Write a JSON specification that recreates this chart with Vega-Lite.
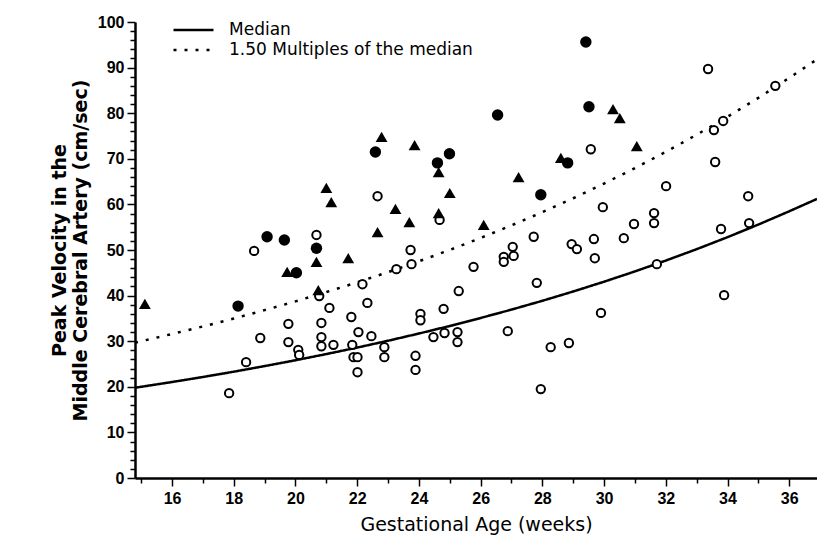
{
  "$schema": "https://vega.github.io/schema/vega-lite/v6.json",
  "width": 682,
  "height": 456,
  "autosize": "none",
  "padding": {"left": 135, "top": 22, "right": 0, "bottom": 62},
  "config": {"view": {"stroke": null}, "font": "Liberation Sans"},
  "datasets": {
    "curves": [
      {"series": "Median", "age": 14.8, "velocity": 19.8},
      {"series": "Median", "age": 15, "velocity": 20.0},
      {"series": "Median", "age": 16, "velocity": 21.05},
      {"series": "Median", "age": 17, "velocity": 22.15},
      {"series": "Median", "age": 18, "velocity": 23.31},
      {"series": "Median", "age": 19, "velocity": 24.54},
      {"series": "Median", "age": 20, "velocity": 25.82},
      {"series": "Median", "age": 21, "velocity": 27.18},
      {"series": "Median", "age": 22, "velocity": 28.6},
      {"series": "Median", "age": 23, "velocity": 30.1},
      {"series": "Median", "age": 24, "velocity": 31.68},
      {"series": "Median", "age": 25, "velocity": 33.34},
      {"series": "Median", "age": 26, "velocity": 35.09},
      {"series": "Median", "age": 27, "velocity": 36.93},
      {"series": "Median", "age": 28, "velocity": 38.86},
      {"series": "Median", "age": 29, "velocity": 40.9},
      {"series": "Median", "age": 30, "velocity": 43.05},
      {"series": "Median", "age": 31, "velocity": 45.3},
      {"series": "Median", "age": 32, "velocity": 47.68},
      {"series": "Median", "age": 33, "velocity": 50.18},
      {"series": "Median", "age": 34, "velocity": 52.81},
      {"series": "Median", "age": 35, "velocity": 55.58},
      {"series": "Median", "age": 36, "velocity": 58.49},
      {"series": "Median", "age": 36.9, "velocity": 61.2},
      {"series": "1.50 Multiples of the median", "age": 14.8, "velocity": 29.7},
      {"series": "1.50 Multiples of the median", "age": 15, "velocity": 30.0},
      {"series": "1.50 Multiples of the median", "age": 16, "velocity": 31.58},
      {"series": "1.50 Multiples of the median", "age": 17, "velocity": 33.23},
      {"series": "1.50 Multiples of the median", "age": 18, "velocity": 34.97},
      {"series": "1.50 Multiples of the median", "age": 19, "velocity": 36.81},
      {"series": "1.50 Multiples of the median", "age": 20, "velocity": 38.73},
      {"series": "1.50 Multiples of the median", "age": 21, "velocity": 40.77},
      {"series": "1.50 Multiples of the median", "age": 22, "velocity": 42.9},
      {"series": "1.50 Multiples of the median", "age": 23, "velocity": 45.15},
      {"series": "1.50 Multiples of the median", "age": 24, "velocity": 47.52},
      {"series": "1.50 Multiples of the median", "age": 25, "velocity": 50.01},
      {"series": "1.50 Multiples of the median", "age": 26, "velocity": 52.64},
      {"series": "1.50 Multiples of the median", "age": 27, "velocity": 55.4},
      {"series": "1.50 Multiples of the median", "age": 28, "velocity": 58.29},
      {"series": "1.50 Multiples of the median", "age": 29, "velocity": 61.35},
      {"series": "1.50 Multiples of the median", "age": 30, "velocity": 64.58},
      {"series": "1.50 Multiples of the median", "age": 31, "velocity": 67.95},
      {"series": "1.50 Multiples of the median", "age": 32, "velocity": 71.52},
      {"series": "1.50 Multiples of the median", "age": 33, "velocity": 75.27},
      {"series": "1.50 Multiples of the median", "age": 34, "velocity": 79.22},
      {"series": "1.50 Multiples of the median", "age": 35, "velocity": 83.37},
      {"series": "1.50 Multiples of the median", "age": 36, "velocity": 87.74},
      {"series": "1.50 Multiples of the median", "age": 36.9, "velocity": 91.8}
    ],
    "points": [
      {"group": "open", "age": 17.85, "velocity": 18.6},
      {"group": "open", "age": 18.4, "velocity": 25.4},
      {"group": "open", "age": 18.66, "velocity": 49.8},
      {"group": "open", "age": 18.86, "velocity": 30.7},
      {"group": "open", "age": 19.77, "velocity": 33.8},
      {"group": "open", "age": 19.77, "velocity": 29.8},
      {"group": "open", "age": 20.09, "velocity": 28.1},
      {"group": "open", "age": 20.12, "velocity": 27.0},
      {"group": "open", "age": 20.68, "velocity": 53.3},
      {"group": "open", "age": 20.77, "velocity": 39.9},
      {"group": "open", "age": 20.84, "velocity": 34.0},
      {"group": "open", "age": 20.84, "velocity": 30.9},
      {"group": "open", "age": 20.84, "velocity": 28.9},
      {"group": "open", "age": 21.1, "velocity": 37.3},
      {"group": "open", "age": 21.23, "velocity": 29.2},
      {"group": "open", "age": 21.81, "velocity": 35.3},
      {"group": "open", "age": 21.84, "velocity": 29.2},
      {"group": "open", "age": 21.88, "velocity": 26.5},
      {"group": "open", "age": 22.01, "velocity": 26.5},
      {"group": "open", "age": 22.01, "velocity": 23.2},
      {"group": "open", "age": 22.04, "velocity": 32.0},
      {"group": "open", "age": 22.17, "velocity": 42.5},
      {"group": "open", "age": 22.33, "velocity": 38.4},
      {"group": "open", "age": 22.46, "velocity": 31.1},
      {"group": "open", "age": 22.66, "velocity": 61.8},
      {"group": "open", "age": 22.88, "velocity": 28.7},
      {"group": "open", "age": 22.88, "velocity": 26.5},
      {"group": "open", "age": 23.27, "velocity": 45.8},
      {"group": "open", "age": 23.73, "velocity": 50.0},
      {"group": "open", "age": 23.76, "velocity": 46.9},
      {"group": "open", "age": 23.89, "velocity": 26.8},
      {"group": "open", "age": 23.89, "velocity": 23.7},
      {"group": "open", "age": 24.05, "velocity": 36.0},
      {"group": "open", "age": 24.05, "velocity": 34.6},
      {"group": "open", "age": 24.47, "velocity": 30.9},
      {"group": "open", "age": 24.67, "velocity": 56.6},
      {"group": "open", "age": 24.8, "velocity": 37.1},
      {"group": "open", "age": 24.83, "velocity": 31.8},
      {"group": "open", "age": 25.25, "velocity": 32.0},
      {"group": "open", "age": 25.25, "velocity": 29.8},
      {"group": "open", "age": 25.29, "velocity": 41.0},
      {"group": "open", "age": 25.77, "velocity": 46.3},
      {"group": "open", "age": 26.75, "velocity": 48.5},
      {"group": "open", "age": 26.75, "velocity": 47.4},
      {"group": "open", "age": 26.88, "velocity": 32.2},
      {"group": "open", "age": 27.04, "velocity": 50.7},
      {"group": "open", "age": 27.07, "velocity": 48.7},
      {"group": "open", "age": 27.72, "velocity": 52.9},
      {"group": "open", "age": 27.82, "velocity": 42.8},
      {"group": "open", "age": 27.95, "velocity": 19.5},
      {"group": "open", "age": 28.27, "velocity": 28.7},
      {"group": "open", "age": 28.86, "velocity": 29.6},
      {"group": "open", "age": 28.95, "velocity": 51.3},
      {"group": "open", "age": 29.12, "velocity": 50.2},
      {"group": "open", "age": 29.57, "velocity": 72.1},
      {"group": "open", "age": 29.67, "velocity": 52.4},
      {"group": "open", "age": 29.7, "velocity": 48.2},
      {"group": "open", "age": 29.9, "velocity": 36.2},
      {"group": "open", "age": 29.96, "velocity": 59.4},
      {"group": "open", "age": 30.64, "velocity": 52.6},
      {"group": "open", "age": 30.97, "velocity": 55.7},
      {"group": "open", "age": 31.62, "velocity": 58.1},
      {"group": "open", "age": 31.62, "velocity": 55.9},
      {"group": "open", "age": 31.71, "velocity": 46.9},
      {"group": "open", "age": 32.01, "velocity": 64.0},
      {"group": "open", "age": 33.37, "velocity": 89.7},
      {"group": "open", "age": 33.56, "velocity": 76.3},
      {"group": "open", "age": 33.6, "velocity": 69.3},
      {"group": "open", "age": 33.79, "velocity": 54.6},
      {"group": "open", "age": 33.86, "velocity": 78.3},
      {"group": "open", "age": 33.89, "velocity": 40.1},
      {"group": "open", "age": 34.67, "velocity": 61.8},
      {"group": "open", "age": 34.7, "velocity": 55.9},
      {"group": "open", "age": 35.55, "velocity": 86.0},
      {"group": "filled", "age": 18.14, "velocity": 37.7},
      {"group": "filled", "age": 19.08, "velocity": 52.9},
      {"group": "filled", "age": 19.64, "velocity": 52.2},
      {"group": "filled", "age": 20.03, "velocity": 45.0},
      {"group": "filled", "age": 20.68, "velocity": 50.4},
      {"group": "filled", "age": 22.59, "velocity": 71.5},
      {"group": "filled", "age": 24.6, "velocity": 69.1},
      {"group": "filled", "age": 24.99, "velocity": 71.1},
      {"group": "filled", "age": 26.55, "velocity": 79.6},
      {"group": "filled", "age": 27.95, "velocity": 62.1},
      {"group": "filled", "age": 28.82, "velocity": 69.1},
      {"group": "filled", "age": 29.41, "velocity": 95.6},
      {"group": "filled", "age": 29.51, "velocity": 81.4},
      {"group": "triangle", "age": 15.12, "velocity": 38.2},
      {"group": "triangle", "age": 19.73, "velocity": 45.2},
      {"group": "triangle", "age": 20.68, "velocity": 47.4},
      {"group": "triangle", "age": 20.74, "velocity": 41.2},
      {"group": "triangle", "age": 21.0, "velocity": 63.6},
      {"group": "triangle", "age": 21.16, "velocity": 60.5},
      {"group": "triangle", "age": 21.71, "velocity": 48.2},
      {"group": "triangle", "age": 22.66, "velocity": 53.9},
      {"group": "triangle", "age": 22.79, "velocity": 74.8},
      {"group": "triangle", "age": 23.24, "velocity": 59.0},
      {"group": "triangle", "age": 23.69, "velocity": 56.1},
      {"group": "triangle", "age": 23.86, "velocity": 73.0},
      {"group": "triangle", "age": 24.64, "velocity": 67.1},
      {"group": "triangle", "age": 24.64, "velocity": 58.1},
      {"group": "triangle", "age": 25.0, "velocity": 62.5},
      {"group": "triangle", "age": 26.1, "velocity": 55.5},
      {"group": "triangle", "age": 27.23, "velocity": 66.0},
      {"group": "triangle", "age": 28.6, "velocity": 70.2},
      {"group": "triangle", "age": 30.29, "velocity": 80.9},
      {"group": "triangle", "age": 30.51, "velocity": 78.9},
      {"group": "triangle", "age": 31.06, "velocity": 72.8}
    ]
  },
  "encoding": {
    "x": {
      "field": "age",
      "type": "quantitative",
      "scale": {"domain": [14.8, 36.9], "nice": false, "zero": false},
      "axis": {
        "title": "Gestational Age (weeks)",
        "values": [15, 15.5, 16, 16.5, 17, 17.5, 18, 18.5, 19, 19.5, 20, 20.5, 21, 21.5, 22, 22.5, 23, 23.5, 24, 24.5, 25, 25.5, 26, 26.5, 27, 27.5, 28, 28.5, 29, 29.5, 30, 30.5, 31, 31.5, 32, 32.5, 33, 33.5, 34, 34.5, 35, 35.5, 36, 36.5],
        "format": "d",
        "labelExpr": "datum.value % 2 == 0 ? datum.label : ''",
        "labelOverlap": false,
        "labelFlush": false,
        "tickSize": {"condition": {"test": "datum.value % 2 == 0", "value": 8}, "value": 5},
        "tickColor": "black",
        "tickWidth": 1.5,
        "domainColor": "black",
        "domainWidth": 2.5,
        "grid": false,
        "labelColor": "black",
        "labelFontSize": 16,
        "labelFontWeight": "bold",
        "labelPadding": 4,
        "titleColor": "black",
        "titleFont": "DejaVu Sans",
        "titleFontSize": 19,
        "titleFontWeight": "normal",
        "titlePadding": 9
      }
    },
    "y": {
      "field": "velocity",
      "type": "quantitative",
      "scale": {"domain": [0, 100], "nice": false},
      "axis": {
        "title": ["Peak Velocity in the", "Middle Cerebral Artery (cm/sec)"],
        "values": [0, 2, 4, 6, 8, 10, 12, 14, 16, 18, 20, 22, 24, 26, 28, 30, 32, 34, 36, 38, 40, 42, 44, 46, 48, 50, 52, 54, 56, 58, 60, 62, 64, 66, 68, 70, 72, 74, 76, 78, 80, 82, 84, 86, 88, 90, 92, 94, 96, 98, 100],
        "format": "d",
        "labelExpr": "datum.value % 10 == 0 ? datum.label : ''",
        "labelOverlap": false,
        "labelFlush": false,
        "tickSize": {"condition": {"test": "datum.value % 10 == 0", "value": 8}, "value": 5},
        "tickColor": "black",
        "tickWidth": 1.5,
        "domainColor": "black",
        "domainWidth": 2.5,
        "grid": false,
        "labelColor": "black",
        "labelFontSize": 16,
        "labelFontWeight": "bold",
        "labelPadding": 3,
        "titleColor": "black",
        "titleFont": "DejaVu Sans",
        "titleFontSize": 19,
        "titleFontWeight": "bold",
        "titlePadding": 7,
        "titleLineHeight": 21
      }
    }
  },
  "layer": [
    {
      "data": {"name": "curves"},
      "mark": {"type": "line", "strokeWidth": 2.5, "color": "black", "clip": true},
      "encoding": {
        "strokeDash": {
          "field": "series",
          "type": "nominal",
          "scale": {"domain": ["Median", "1.50 Multiples of the median"], "range": [[1, 0], [3, 8]]},
          "legend": {
            "title": null,
            "orient": "none",
            "legendX": 37,
            "legendY": -2,
            "symbolType": "stroke",
            "symbolSize": 1600,
            "symbolStrokeWidth": 2.5,
            "symbolStrokeColor": "black",
            "labelFont": "DejaVu Sans",
            "labelFontSize": 17,
            "labelColor": "black",
            "labelOffset": 14,
            "labelLimit": 0,
            "clipHeight": 20,
            "rowPadding": 0
          }
        }
      }
    },
    {
      "data": {"name": "points"},
      "transform": [{"filter": "datum.group == 'open'"}],
      "mark": {"type": "point", "shape": "circle", "filled": false, "fill": "white", "fillOpacity": 1, "stroke": "black", "strokeWidth": 2, "size": 70, "opacity": 1}
    },
    {
      "data": {"name": "points"},
      "transform": [{"filter": "datum.group == 'filled'"}],
      "mark": {"type": "point", "shape": "circle", "filled": true, "color": "black", "size": 130, "opacity": 1}
    },
    {
      "data": {"name": "points"},
      "transform": [{"filter": "datum.group == 'triangle'"}],
      "mark": {"type": "point", "shape": "triangle-up", "filled": true, "color": "black", "size": 140, "opacity": 1}
    }
  ]
}
